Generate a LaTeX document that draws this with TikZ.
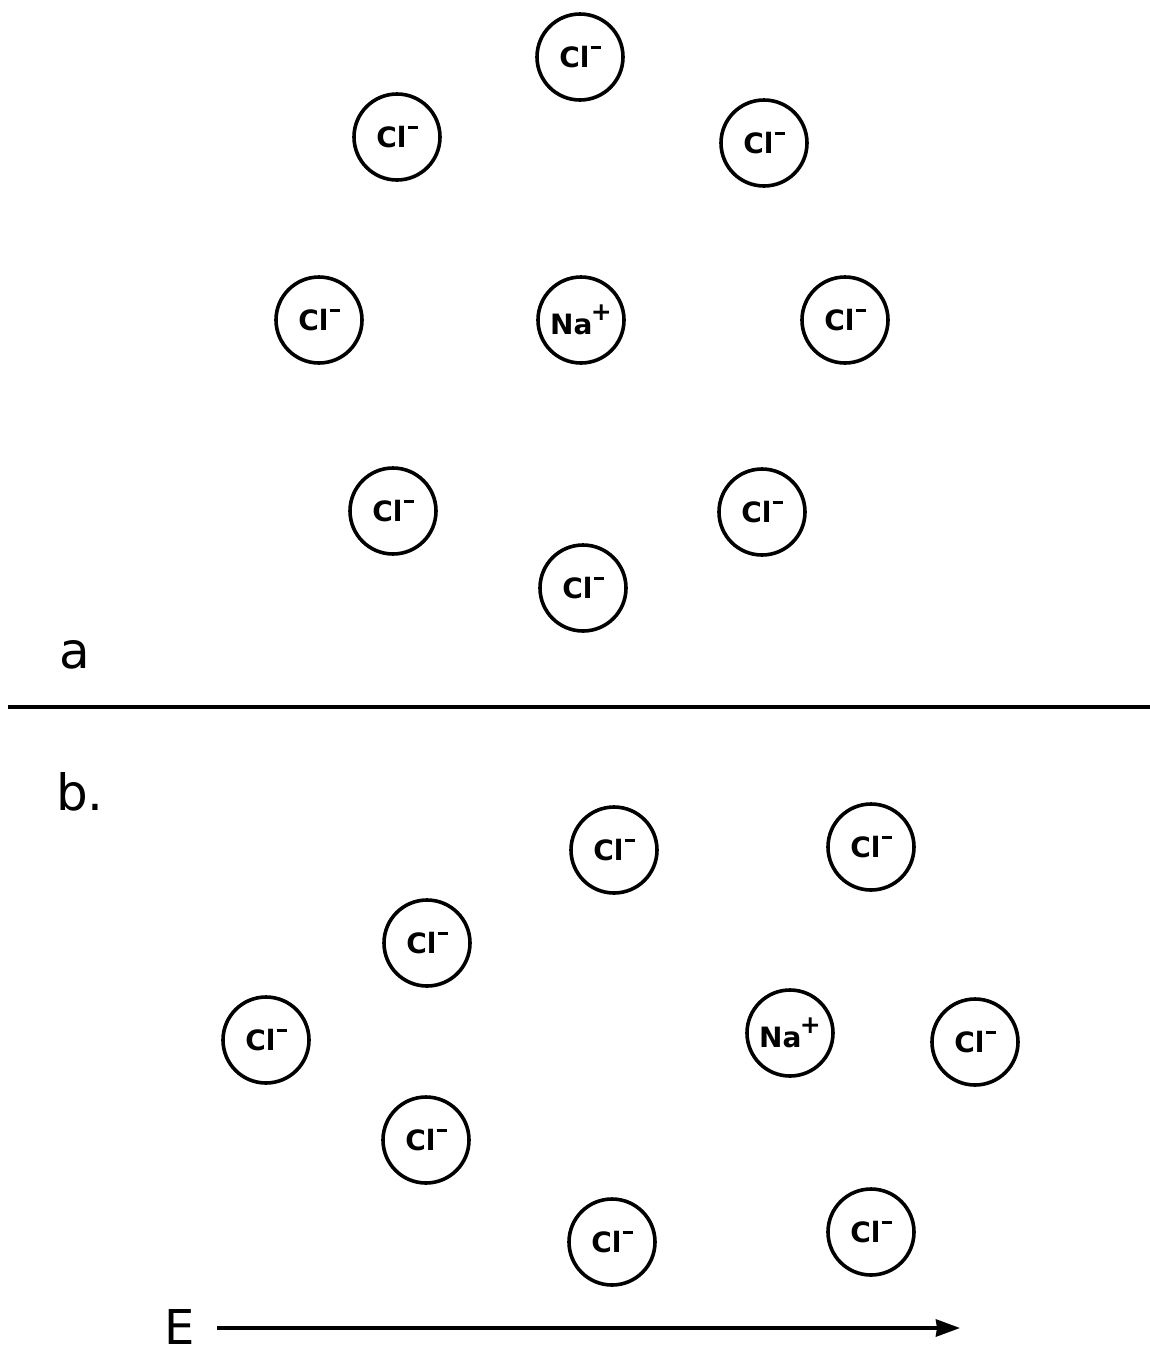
\documentclass[tikz,border=0pt]{standalone}
\usepackage{fontspec}
\setmainfont{DejaVu Sans}
\usetikzlibrary{arrows.meta}
\newcommand{\clion}{Cl\hspace{1pt}\raisebox{0.68em}{\rule{10pt}{3pt}}}
\newcommand{\naion}{Na\hspace{-1.5pt}\raisebox{0.5em}{\fontsize{25}{25}\selectfont\bfseries +}}
\tikzset{
  ion/.style={circle, draw, line width=3.6pt, minimum size=86pt, inner sep=0pt,
    font=\fontsize{28}{30}\selectfont\bfseries},
  panellabel/.style={font=\fontsize{50}{52}\selectfont, inner sep=0pt},
}
\begin{document}
\begin{tikzpicture}[x=1pt, y=-1pt]
  \useasboundingbox[fill=white] (0,0) rectangle (1150,1353);

  % panel a: ion surrounded symmetrically
  \node[ion] (a1) at (580,57)  {\clion};
  \node[ion] (a2) at (397,137) {\clion};
  \node[ion] (a3) at (764,143) {\clion};
  \node[ion] (a4) at (319,320) {\clion};
  \node[ion] (na) at (581,320) {\naion};
  \node[ion] (a5) at (845,320) {\clion};
  \node[ion] (a6) at (393,511) {\clion};
  \node[ion] (a7) at (762,512) {\clion};
  \node[ion] (a8) at (583,588) {\clion};
  \node[panellabel, anchor=base] (la) at (75,668) {a};

  % divider between panels
  \coordinate (dl) at (8,707);
  \coordinate (dr) at (1150,707);
  \draw[line width=4.5pt] (dl) -- (dr);

  % panel b: ion displaced by the field
  \node[panellabel, anchor=base] (lb) at (80,810) {b.};
  \node[ion] (b1) at (614,850)  {\clion};
  \node[ion] (b2) at (871,847)  {\clion};
  \node[ion] (b3) at (427,943)  {\clion};
  \node[ion] (b4) at (266,1040) {\clion};
  \node[ion] (nb) at (790,1033) {\naion};
  \node[ion] (b5) at (975,1042) {\clion};
  \node[ion] (b6) at (426,1140) {\clion};
  \node[ion] (b7) at (612,1242) {\clion};
  \node[ion] (b8) at (871,1232) {\clion};

  % field arrow
  \node[font=\fontsize{48}{50}\selectfont, inner sep=0pt, anchor=base] (E) at (180,1344) {E};
  \coordinate (ee) at (960,1328);
  \draw[line width=3.8pt, -{Stealth[length=24pt, width=17pt, inset=1pt]}]
    ([xshift=22pt]E.east |- ee) -- (ee);
\end{tikzpicture}
\end{document}
